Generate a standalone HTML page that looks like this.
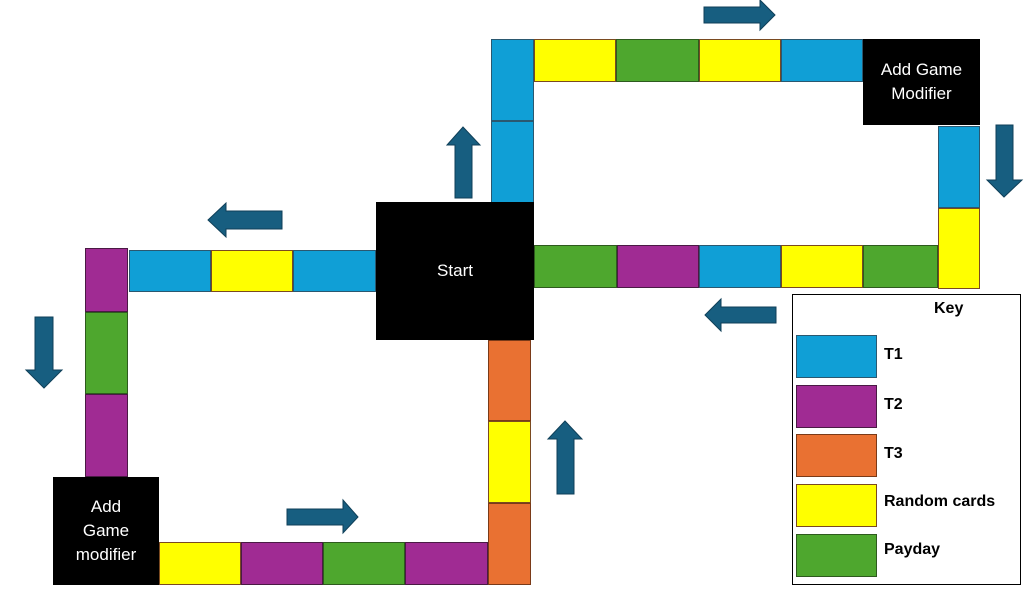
<!DOCTYPE html>
<html><head><style>
body{margin:0;width:1024px;height:589px;background:#fff;position:relative;overflow:hidden;font-family:"Liberation Sans",sans-serif}
.c{position:absolute;box-sizing:border-box;border:1.5px solid #3a3a3a}
.b{background:#109fd6;border-color:#2a5870}.y{background:#ffff00;border-color:#7a4a20}.g{background:#4ea72e;border-color:#2e5a1e}.p{background:#a02b93;border-color:#4a1a44}.o{background:#e97132;border-color:#7a3a18}
.k{position:absolute;background:#000;color:#fff;display:flex;align-items:center;justify-content:center;text-align:center;font-size:17px;line-height:24px}
.l{position:absolute;font-weight:bold;font-size:16px;left:884px}
</style></head><body>
<!-- top loop -->
<div class="c b" style="left:491px;top:39px;width:43px;height:82px"></div>
<div class="c b" style="left:491px;top:121px;width:43px;height:82px"></div>
<div class="c y" style="left:534px;top:39px;width:82px;height:43px"></div>
<div class="c g" style="left:616px;top:39px;width:83px;height:43px"></div>
<div class="c y" style="left:699px;top:39px;width:82px;height:43px"></div>
<div class="c b" style="left:781px;top:39px;width:82px;height:43px"></div>
<div class="k" style="left:863px;top:39px;width:117px;height:86px">Add Game<br>Modifier</div>
<div class="c b" style="left:938px;top:126px;width:42px;height:82px"></div>
<div class="c y" style="left:938px;top:208px;width:42px;height:81px"></div>
<div class="c g" style="left:534px;top:245px;width:83px;height:43px"></div>
<div class="c p" style="left:617px;top:245px;width:82px;height:43px"></div>
<div class="c b" style="left:699px;top:245px;width:82px;height:43px"></div>
<div class="c y" style="left:781px;top:245px;width:82px;height:43px"></div>
<div class="c g" style="left:863px;top:245px;width:75px;height:43px"></div>
<div class="k" style="left:376px;top:202px;width:158px;height:138px">Start</div>
<!-- left loop -->
<div class="c b" style="left:129px;top:250px;width:82px;height:42px"></div>
<div class="c y" style="left:211px;top:250px;width:82px;height:42px"></div>
<div class="c b" style="left:293px;top:250px;width:83px;height:42px"></div>
<div class="c p" style="left:85px;top:248px;width:43px;height:64px"></div>
<div class="c g" style="left:85px;top:312px;width:43px;height:82px"></div>
<div class="c p" style="left:85px;top:394px;width:43px;height:83px"></div>
<div class="k" style="left:53px;top:477px;width:106px;height:108px">Add<br>Game<br>modifier</div>
<div class="c y" style="left:159px;top:542px;width:82px;height:43px"></div>
<div class="c p" style="left:241px;top:542px;width:82px;height:43px"></div>
<div class="c g" style="left:323px;top:542px;width:82px;height:43px"></div>
<div class="c p" style="left:405px;top:542px;width:83px;height:43px"></div>
<div class="c o" style="left:488px;top:340px;width:43px;height:81px"></div>
<div class="c y" style="left:488px;top:421px;width:43px;height:82px"></div>
<div class="c o" style="left:488px;top:503px;width:43px;height:82px"></div>
<!-- arrows -->
<svg width="1024" height="589" style="position:absolute;left:0;top:0">
<g fill="#175e80" stroke="#0f3f58" stroke-width="1">
<!-- right arrows -->
<polygon points="704,7 760,7 760,0 775,15 760,30 760,23 704,23"/>
<polygon points="287,509 343,509 343,500 358,517 343,533 343,525 287,525"/>
<!-- left arrows -->
<polygon points="282,211 226,211 226,203 208,220 226,237 226,229 282,229"/>
<polygon points="776,307 721,307 721,299 705,315 721,331 721,323 776,323"/>
<!-- up arrows -->
<polygon points="455,198 455,145 447,145 463,127 480,145 472,145 472,198"/>
<polygon points="557,494 557,439 548,439 565,421 582,439 574,439 574,494"/>
<!-- down arrows -->
<polygon points="35,317 53,317 53,370 62,370 44,388 26,370 35,370"/>
<polygon points="996,125 1013,125 1013,180 1022,180 1004,197 987,180 996,180"/>
</g></svg>
<!-- key -->
<div style="position:absolute;left:792px;top:294px;width:229px;height:291px;border:1.5px solid #000;box-sizing:border-box"></div>
<div style="position:absolute;left:934px;top:300px;font-weight:bold;font-size:16px">Key</div>
<div class="c b" style="left:796px;top:335px;width:81px;height:43px"></div><div class="l" style="top:346px">T1</div>
<div class="c p" style="left:796px;top:385px;width:81px;height:43px"></div><div class="l" style="top:396px">T2</div>
<div class="c o" style="left:796px;top:434px;width:81px;height:43px"></div><div class="l" style="top:445px">T3</div>
<div class="c y" style="left:796px;top:484px;width:81px;height:43px"></div><div class="l" style="top:493px">Random cards</div>
<div class="c g" style="left:796px;top:534px;width:81px;height:43px"></div><div class="l" style="top:541px">Payday</div>
</body></html>
